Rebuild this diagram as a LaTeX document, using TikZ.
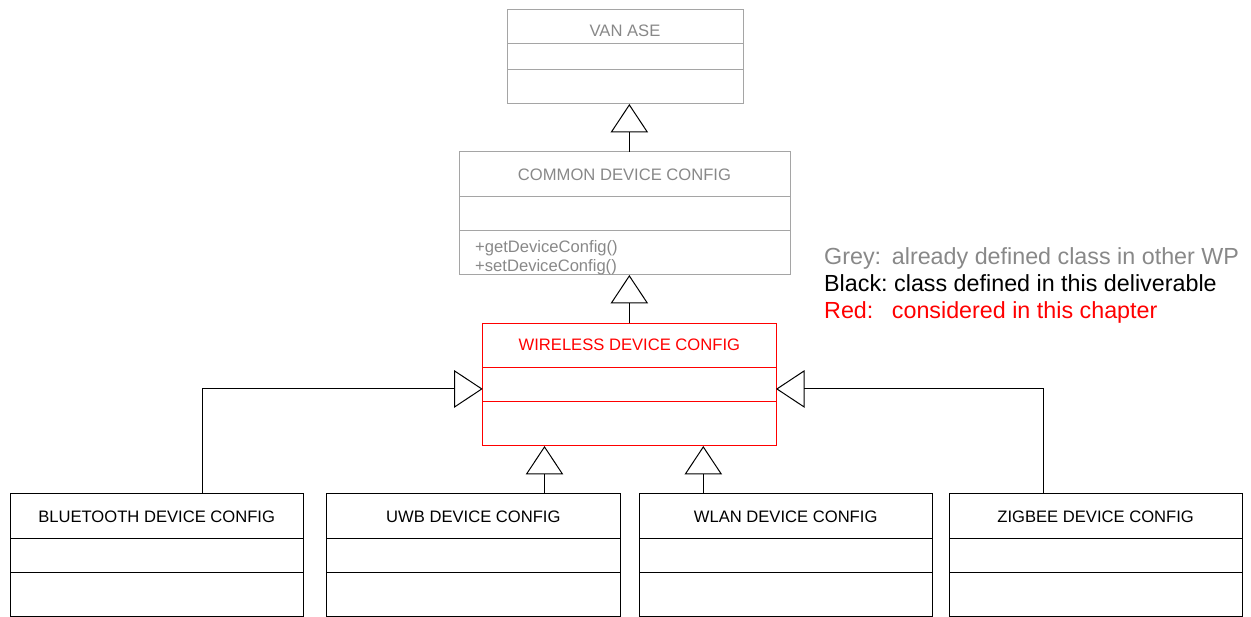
\documentclass[tikz,border=0pt]{standalone}
\usepackage{fontspec}
\setmainfont{Liberation Sans}
\usetikzlibrary{arrows.meta}
\definecolor{greytext}{RGB}{136,136,136}
\definecolor{greyline}{RGB}{165,165,165}
\definecolor{uired}{RGB}{255,0,0}
\begin{document}
\begin{tikzpicture}[x=1pt,y=-1pt,
  classbox/.style={draw, line width=1pt, inner sep=0pt, outer sep=0pt, anchor=north west},
  title/.style={anchor=base, inner sep=0pt, font=\fontsize{16.6}{19}\selectfont},
  member/.style={anchor=base west, inner sep=0pt, font=\fontsize{16.6}{19}\selectfont},
  legend/.style={anchor=base west, inner sep=0pt, font=\fontsize{23.3}{26}\selectfont},
  gen/.style={draw=black, line width=1pt,
    -{Triangle[open, length=28.5pt, width=37.5pt, line width=1pt]}},
  oldcls/.style={classbox, draw=greyline, text=greytext},
  newcls/.style={classbox, draw=black},
  chapcls/.style={classbox, draw=uired}
]
\useasboundingbox (0,0) rectangle (1251,617);

% ---- VAN ASE ----
\node[oldcls, minimum width=236pt, minimum height=94.7pt] (van) at (507,9.3) {};
\node[title, text=greytext] (vant) at (625,36.7) {VAN ASE};
\draw[greyline, line width=1pt] (van.west |- 0,43.3) -- (van.east |- 0,43.3)
  (van.west |- 0,70) -- (van.east |- 0,70);

% ---- COMMON DEVICE CONFIG ----
\node[oldcls, minimum width=331pt, minimum height=123pt] (common) at (459,152) {};
\node[title, text=greytext] (commont) at (624.5,180.7) {COMMON DEVICE CONFIG};
\draw[greyline, line width=1pt] (common.west |- 0,196.7) -- (common.east |- 0,196.7)
  (common.west |- 0,230.3) -- (common.east |- 0,230.3);
\node[member, text=greytext] (getcfg) at (475,252.5) {+getDeviceConfig()};
\node[member, text=greytext] (setcfg) at (475,271.5) {+setDeviceConfig()};

% ---- WIRELESS DEVICE CONFIG ----
\node[chapcls, minimum width=293.3pt, minimum height=122.7pt] (wireless) at (482.7,323.3) {};
\node[title, text=uired] (wirelesst) at (629.35,350.7) {WIRELESS DEVICE CONFIG};
\draw[uired, line width=1pt] (wireless.west |- 0,367.7) -- (wireless.east |- 0,367.7)
  (wireless.west |- 0,401.3) -- (wireless.east |- 0,401.3);

% ---- concrete device configurations ----
\node[newcls, minimum width=293.3pt, minimum height=123.2pt] (bt) at (10,493.3) {};
\node[title] (btt) at (156.65,522.3) {BLUETOOTH DEVICE CONFIG};
\node[newcls, minimum width=293.3pt, minimum height=123.2pt] (uwb) at (326.7,493.3) {};
\node[title] (uwbt) at (473.35,522.3) {UWB DEVICE CONFIG};
\node[newcls, minimum width=293.3pt, minimum height=123.2pt] (wlan) at (639,493.3) {};
\node[title] (wlant) at (785.65,522.3) {WLAN DEVICE CONFIG};
\node[newcls, minimum width=293.3pt, minimum height=123.2pt] (zig) at (949,493.3) {};
\node[title] (zigt) at (1095.65,522.3) {ZIGBEE DEVICE CONFIG};
\foreach \c in {bt,uwb,wlan,zig}{
  \draw[black, line width=1pt] (\c.west |- 0,538.3) -- (\c.east |- 0,538.3)
    (\c.west |- 0,572) -- (\c.east |- 0,572);
}

% ---- generalisations ----
\draw[gen] (wireless.north) -- (wireless.north |- common.south);
\draw[gen] (wireless.north |- common.north) -- (wireless.north |- van.south);

\coordinate (bttop) at ([xshift=192pt]bt.north west);
\coordinate (uwbtop) at ([xshift=217.8pt]uwb.north west);
\coordinate (wlantop) at ([xshift=64.3pt]wlan.north west);
\coordinate (zigtop) at ([xshift=94.3pt]zig.north west);
\draw[gen] (bttop) |- ([yshift=-4.3pt]wireless.west);
\draw[gen] (zigtop) |- ([yshift=-4.3pt]wireless.east);
\draw[gen] (uwbtop) -- (uwbtop |- wireless.south);
\draw[gen] (wlantop) -- (wlantop |- wireless.south);

% ---- legend ----
\node[legend, text=greytext] (lgrey) at (824,265) {Grey:};
\node[legend, text=greytext] (lgreyv) at (891.7,265) {already defined class in other WP};
\node[legend, text=black] (lblack) at (824,292) {Black:};
\node[legend, text=black] (lblackv) at (894,292) {class defined in this deliverable};
\node[legend, text=uired] (lred) at (824,319) {Red:};
\node[legend, text=uired] (lredv) at (891.7,319) {considered in this chapter};
\end{tikzpicture}
\end{document}
